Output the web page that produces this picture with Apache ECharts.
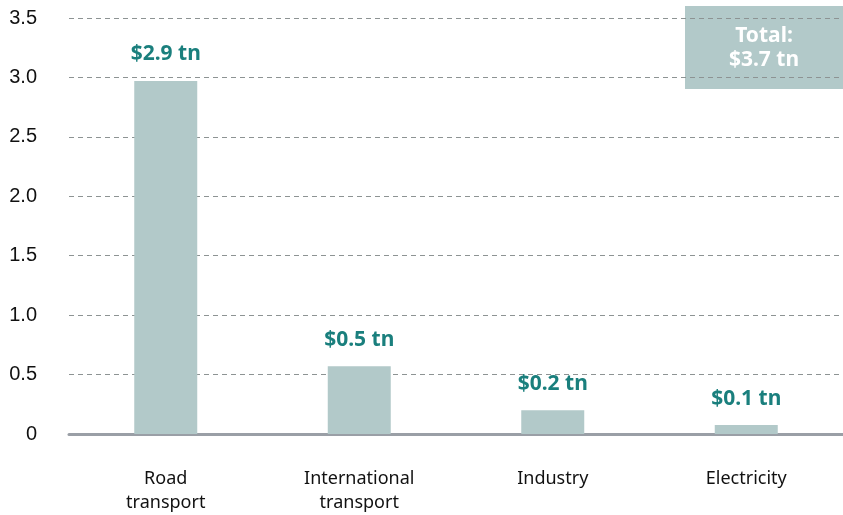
<!DOCTYPE html>
<html>
<head>
<meta charset="utf-8">
<script src="https://cdn.jsdelivr.net/npm/echarts@6/dist/echarts.min.js"></script>
<style>
  html, body { margin: 0; padding: 0; background: #fff; }
  #chart { width: 843px; height: 515px; }
</style>
</head>
<body>
<div id="chart"></div>
<script>
// 分类与数值
const categories = ['Road\ntransport', 'International\ntransport', 'Industry', 'Electricity'];
const values = [2.97, 0.57, 0.2, 0.075];
const valueLabels = ['$2.9 tn', '$0.5 tn', '$0.2 tn', '$0.1 tn'];
const totalText = 'Total:\n$3.7 tn';

const font = '"Noto Sans", "Open Sans", sans-serif';
const chart = echarts.init(document.getElementById('chart'));

chart.setOption({
    animation: false,
    grid: {
        left: 69,
        right: 0,
        top: 18,
        bottom: 77
    },
    xAxis: {
        type: 'category',
        data: categories,
        axisLine: {
            show: true,
            lineStyle: { color: '#9a9fa6', width: 3 }
        },
        axisTick: { show: false },
        axisLabel: {
            color: '#111',
            fontFamily: font,
            fontSize: 18,
            lineHeight: 24,
            margin: 33
        }
    },
    yAxis: {
        type: 'value',
        min: 0,
        max: 3.5,
        interval: 0.5,
        axisLine: { show: false },
        axisTick: { show: false },
        splitLine: {
            lineStyle: { color: '#8d9393', type: [5, 4], width: 1 }
        },
        axisLabel: {
            color: '#111',
            fontFamily: '"Liberation Sans", Arial, sans-serif',
            fontSize: 20,
            margin: 32,
            formatter: v => v === 0 ? '0' : v.toFixed(1)
        }
    },
    series: [{
        type: 'bar',
        data: values,
        barWidth: 63,
        z: 1,
        itemStyle: { color: '#b2c9c9' },
        label: {
            show: true,
            position: 'top',
            distance: 16,
            color: '#1a7f7d',
            fontFamily: font,
            fontWeight: 'bold',
            fontSize: 21,
            formatter: p => valueLabels[p.dataIndex]
        }
    }],
    graphic: [{
        type: 'group',
        left: 685,
        top: 6,
        children: [{
            type: 'rect',
            shape: { x: 0, y: 0, width: 158, height: 83 },
            style: { fill: '#b2c9c9' }
        }, {
            type: 'text',
            x: 79,
            y: 42,
            style: {
                text: totalText,
                fill: '#fff',
                font: 'bold 21px ' + font,
                lineHeight: 24,
                align: 'center',
                verticalAlign: 'middle'
            }
        }]
    }]
});
</script>
</body>
</html>
